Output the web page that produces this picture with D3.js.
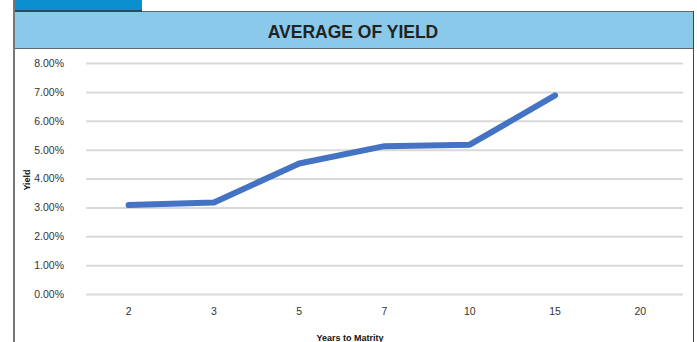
<!DOCTYPE html>
<html><head><meta charset="utf-8">
<script src="https://cdn.jsdelivr.net/npm/d3@7"></script>
<style>body{margin:0;background:#fff;}svg{display:block;font-family:"Liberation Sans",Arial,sans-serif;}</style>
</head><body>
<svg id="c" width="697" height="342"></svg>
<script>
const categories = ["2","3","5","7","10","15","20"];
const yieldValues = [0.0308, 0.0317, 0.0452, 0.0512, 0.0517, 0.0688, null];
const yTicks = [0,0.01,0.02,0.03,0.04,0.05,0.06,0.07,0.08];

const svg = d3.select("#c");
const narrow = "'Liberation Sans Narrow','Arial Narrow','Liberation Sans',Arial,sans-serif";
// frame
svg.append("rect").attr("x",14).attr("y",0).attr("width",128).attr("height",11).attr("fill","#0a8fcf");
svg.append("rect").attr("x",14.5).attr("y",11.5).attr("width",679).attr("height",37).attr("fill","#8ac9ea").attr("stroke","#5f6a72").attr("stroke-width",1);
svg.append("line").attr("x1",14).attr("x2",142).attr("y1",11).attr("y2",11).attr("stroke","#2b4a5e").attr("stroke-width",2);
svg.append("line").attr("x1",14).attr("x2",14).attr("y1",0).attr("y2",342).attr("stroke","#777").attr("stroke-width",2);
svg.append("line").attr("x1",693.5).attr("x2",693.5).attr("y1",11).attr("y2",342).attr("stroke","#444").attr("stroke-width",1);
svg.append("text").attr("x",353).attr("y",37.5).attr("text-anchor","middle")
  .attr("font-size",17.5).attr("font-weight","bold").attr("fill","#222").text("AVERAGE OF YIELD");

const x = d3.scaleBand().domain(categories).range([86,683]);
const y = d3.scaleLinear().domain([0,0.08]).range([294,63]);

const gy = svg.append("g").attr("transform","translate(86,0)")
  .call(d3.axisLeft(y).tickValues(yTicks).tickFormat(d3.format(".2%")).tickSize(-597).tickPadding(22));
gy.select(".domain").remove();
gy.selectAll(".tick line").attr("stroke","#d9d9d9").attr("stroke-width",2);
gy.selectAll(".tick text").attr("font-size",10.5).attr("fill","#333").attr("font-family",narrow);

const gx = svg.append("g").attr("transform","translate(0,294)")
  .call(d3.axisBottom(x).tickSize(0).tickPadding(14));
gx.select(".domain").remove();
gx.selectAll(".tick text").attr("font-size",10.5).attr("fill","#333").attr("font-family",narrow);

const line = d3.line().defined(d=>d.v!=null).x(d=>x(d.c)+x.bandwidth()/2).y(d=>y(d.v));
svg.append("path").datum(categories.map((c,i)=>({c,v:yieldValues[i]})))
  .attr("d",line).attr("fill","none").attr("stroke","#4472c4").attr("stroke-width",6)
  .attr("stroke-linecap","round").attr("stroke-linejoin","round");

svg.append("text").attr("x",350).attr("y",340.5).attr("text-anchor","middle")
  .attr("font-size",9).attr("font-weight","bold").attr("fill","#111").text("Years to Matrity");
svg.append("text").attr("transform","translate(30,180) rotate(-90)").attr("text-anchor","middle")
  .attr("font-size",9).attr("font-weight","bold").attr("fill","#111").text("Yield");
</script>
</body></html>
